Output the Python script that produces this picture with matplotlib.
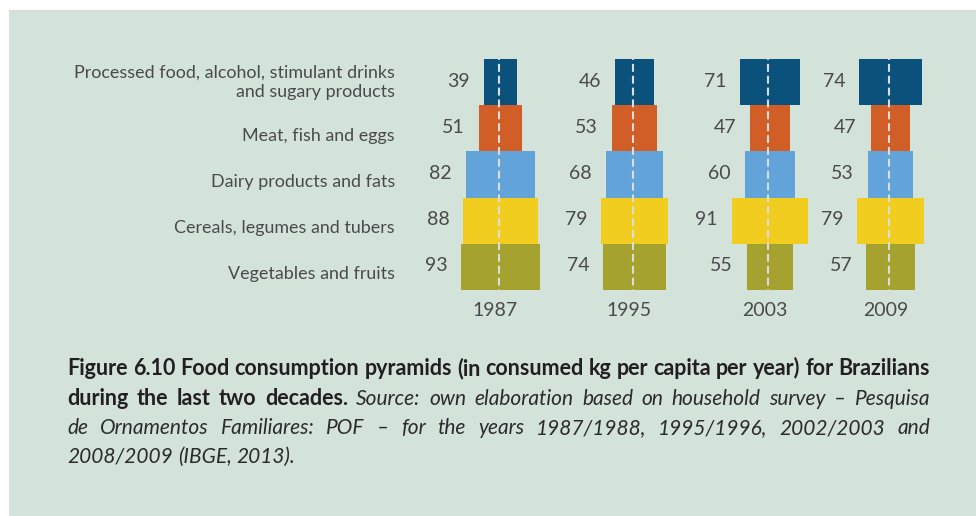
import matplotlib
matplotlib.use("Agg")
import matplotlib.pyplot as plt
from matplotlib.patches import Rectangle
from matplotlib.transforms import blended_transform_factory

# ---- data: kg per capita per year ----
years = ["1987", "1995", "2003", "2009"]
categories = [
    "Processed food, alcohol, stimulant drinks\nand sugary products",
    "Meat, fish and eggs",
    "Dairy products and fats",
    "Cereals, legumes and tubers",
    "Vegetables and fruits",
]
processed = [39, 46, 71, 74]
meat = [51, 53, 47, 47]
dairy = [82, 68, 60, 53]
cereals = [88, 79, 91, 79]
vegetables = [93, 74, 55, 57]

series = [processed, meat, dairy, cereals, vegetables]
colors = ["#0a527c", "#d05e26", "#62a4d9", "#f1cd20", "#a5a22f"]

W, H = 976, 516
fig = plt.figure(figsize=(W / 100, H / 100), dpi=100)
fig.patch.set_facecolor("white")

# panel background
fig.patches.append(Rectangle((9 / W, 0), 1 - 9 / W, 1 - 10 / H,
                             transform=fig.transFigure, facecolor="#d4e3da",
                             edgecolor="none", zorder=-10))

FONT = "Lato"
TXT = "#4a4a4a"
LBL = dict(family=FONT, fontweight="normal", color=TXT)

# pyramid axes: x in kg, y = category row
px_per_kg = 0.845
ax_left, ax_right, ax_top, ax_bot = 420, 960, 59, 290
ax = fig.add_axes([ax_left / W, 1 - ax_bot / H, (ax_right - ax_left) / W,
                   (ax_bot - ax_top) / H], zorder=1)
ax.set_xlim(0, (ax_right - ax_left) / px_per_kg)
ax.set_ylim(4.5, -0.5)
ax.axis("off")

group_centers = [95.3, 253.8, 414.2, 556.8]

for gi, (year, cx) in enumerate(zip(years, group_centers)):
    for ri, vals in enumerate(series):
        v = vals[gi]
        ax.barh(ri, v, left=cx - v / 2, height=1.0, color=colors[ri],
                edgecolor="none", zorder=2)
        ax.annotate(str(v), xy=(cx - v / 2, ri), xytext=(-14, 1),
                    textcoords="offset pixels", ha="right", va="center",
                    fontsize=14, **LBL)
    ax.plot([cx - 2, cx - 2], [-0.65, 4.72], color="#dcdcdc", lw=1.5,
            linestyle=(0, (3.8, 1.9)), zorder=3, clip_on=False)
    ax.annotate(year, xy=(cx, 4.5), xytext=(-5, -20), textcoords="offset pixels",
                ha="center", va="center", fontsize=14, **LBL)

# category labels
trans = blended_transform_factory(fig.transFigure, ax.transData)
label_dy = [0.0, 0.16, 0.16, 0.16, 0.16]
for ri, name in enumerate(categories):
    ax.text(395 / W, ri + label_dy[ri], name, transform=trans, ha="right",
            va="center", fontsize=12.9, linespacing=1.3, **LBL)

# caption, justified between two margins
bold = dict(family=FONT, fontweight="bold", fontsize=15.5, color="#231f20")
ital = dict(family=FONT, fontweight="normal", style="italic", fontsize=15,
            color="#2b2b2b")

lines = [
    ([(w, bold) for w in "Figure 6.10 Food consumption pyramids (in consumed kg per capita per year) for Brazilians".split()], 375, True),
    ([(w, bold) for w in "during the last two decades.".split()]
     + [(w, ital) for w in "Source: own elaboration based on household survey – Pesquisa".split()], 405, True),
    ([(w, ital) for w in "de Ornamentos Familiares: POF – for the years 1987/1988, 1995/1996, 2002/2003 and".split()], 434, True),
    ([(w, ital) for w in "2008/2009 (IBGE, 2013).".split()], 463, False),
]

x0, x1 = 67, 930
renderer = fig.canvas.get_renderer()
for words, base, justify in lines:
    texts = [fig.text(0, 0, w, va="baseline", ha="left", **st) for w, st in words]
    widths = [t.get_window_extent(renderer).width for t in texts]
    if justify and len(texts) > 1:
        gap = (x1 - x0 - sum(widths)) / (len(texts) - 1)
    else:
        sp = fig.text(0, 0, "a a", **ital)
        sp2 = fig.text(0, 0, "aa", **ital)
        gap = sp.get_window_extent(renderer).width - sp2.get_window_extent(renderer).width
        sp.remove(); sp2.remove()
    x = x0
    for t, w in zip(texts, widths):
        t.set_position((x / W, 1 - base / H))
        x += w + gap

fig.savefig("out.png", dpi=100, facecolor=fig.get_facecolor())
